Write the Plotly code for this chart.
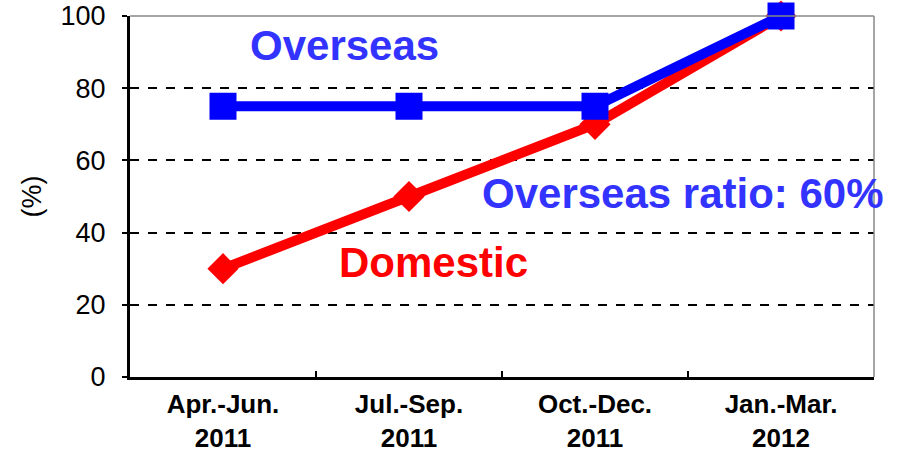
import plotly.graph_objects as go

categories = ["Apr.-Jun.<br>2011", "Jul.-Sep.<br>2011", "Oct.-Dec.<br>2011", "Jan.-Mar.<br>2012"]
overseas = [75, 75, 75, 100]
domestic = [30, 50, 70, 100]
y_ticks = [0, 20, 40, 60, 80, 100]

fig = go.Figure()
fig.add_trace(go.Scatter(
    x=categories, y=domestic, mode="lines+markers", name="Domestic",
    line=dict(color="#FF0000", width=10), cliponaxis=False,
    marker=dict(symbol="diamond", size=24, color="#FF0000"),
))
fig.add_trace(go.Scatter(
    x=categories, y=overseas, mode="lines+markers", name="Overseas",
    line=dict(color="#0000FF", width=10), cliponaxis=False,
    marker=dict(symbol="square", size=27, color="#0000FF"),
))

fig.update_layout(
    width=903, height=456,
    margin=dict(l=130, r=29, t=16, b=79, autoexpand=False),
    paper_bgcolor="white", plot_bgcolor="white",
    showlegend=False,
    font=dict(family="Liberation Sans, Arial", color="black"),
    xaxis=dict(
        type="category", range=[-0.5, 3.5], tickson="boundaries",
        ticks="inside", ticklen=6, tickwidth=2, tickcolor="black",
        showline=True, linecolor="black", linewidth=3,
        showgrid=False, zeroline=False, automargin=False,
        tickfont=dict(size=26, family="Liberation Sans, Arial", color="black", weight="bold"),
        ticklabelstandoff=2,
    ),
    yaxis=dict(
        range=[0, 100], tickvals=y_ticks,
        ticks="outside", ticklen=5, tickwidth=2, tickcolor="black",
        showline=True, linecolor="black", linewidth=3,
        showgrid=True, gridcolor="black", gridwidth=1.5, griddash="dash",
        zeroline=False, automargin=False,
        tickfont=dict(size=27, family="Liberation Sans, Arial", color="black"),
        ticklabelstandoff=11,
    ),
    shapes=[
        dict(type="line", xref="paper", yref="paper", x0=0, x1=1, y0=1, y1=1,
             line=dict(color="#888888", width=1.5)),
        dict(type="line", xref="paper", yref="paper", x0=1, x1=1, y0=0, y1=1,
             line=dict(color="#888888", width=1.5)),
    ],
    annotations=[
        dict(text="(%)", xref="paper", yref="paper", x=0, y=0.5, xshift=-99,
             xanchor="center", yanchor="middle",
             textangle=-90, showarrow=False, font=dict(size=27, color="black")),
        dict(text="Overseas", xref="paper", yref="paper",
             x=(344 - 130) / 744, y=(377 - 45) / 361, showarrow=False,
             xanchor="center", yanchor="middle",
             font=dict(size=42, color="#3333FF", weight="bold")),
        dict(text="Overseas ratio: 60%", xref="paper", yref="paper",
             x=(683 - 130) / 744, y=(377 - 193) / 361, showarrow=False,
             xanchor="center", yanchor="middle",
             font=dict(size=42, color="#3333FF", weight="bold")),
        dict(text="Domestic", xref="paper", yref="paper",
             x=(433 - 130) / 744, y=(377 - 262) / 361, showarrow=False,
             xanchor="center", yanchor="middle",
             font=dict(size=42, color="#FF0000", weight="bold")),
    ],
)

fig.write_html("out.html")
